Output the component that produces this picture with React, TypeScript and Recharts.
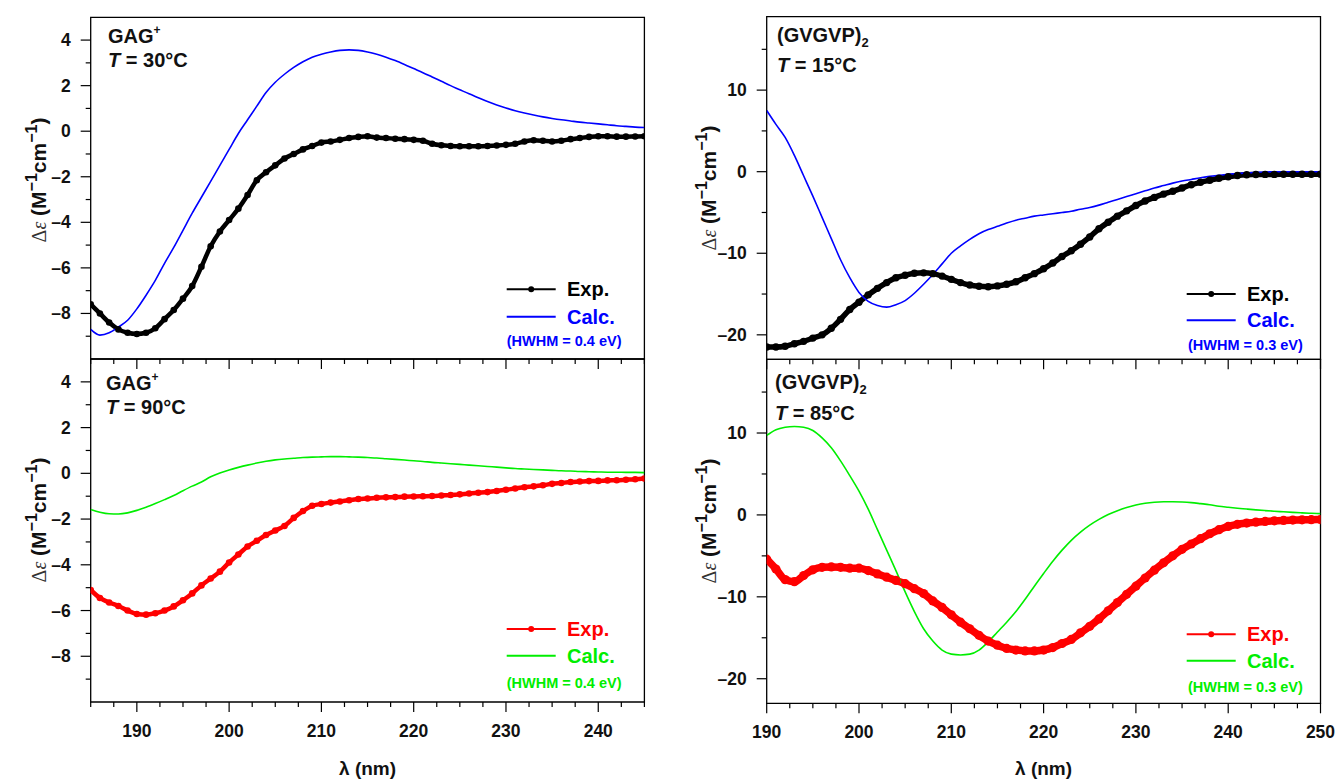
import { LineChart, Line, XAxis, YAxis, ReferenceArea } from "recharts";

const W = 1339;
const H = 781;
const Y_W = 70;
const X_H = 70;
const FONT = "Arial, 'Liberation Sans', sans-serif";
const SERIF = "'Liberation Serif', 'DejaVu Serif', serif";

// wavelength grids (nm)
const lambdaGAG = [
  185, 186, 187, 188, 189, 190, 191, 192, 193, 194, 195, 196, 197, 198, 199, 200, 201, 202, 203, 204,
  205, 206, 207, 208, 209, 210, 211, 212, 213, 214, 215, 216, 217, 218, 219, 220, 221, 222, 223, 224,
  225, 226, 227, 228, 229, 230, 231, 232, 233, 234, 235, 236, 237, 238, 239, 240, 241, 242, 243, 244, 245,
];
const lambdaGVGVP = [
  190, 191, 192, 193, 194, 195, 196, 197, 198, 199, 200, 201, 202, 203, 204, 205, 206, 207, 208, 209,
  210, 211, 212, 213, 214, 215, 216, 217, 218, 219, 220, 221, 222, 223, 224, 225, 226, 227, 228, 229,
  230, 231, 232, 233, 234, 235, 236, 237, 238, 239, 240, 241, 242, 243, 244, 245, 246, 247, 248, 249, 250,
];

// GAG+ at 30 °C
const gag30Exp = [
  -7.6, -8.0, -8.4, -8.7, -8.85, -8.9, -8.85, -8.65, -8.25, -7.85,
  -7.35, -6.8, -5.95, -5.05, -4.4, -3.9, -3.4, -2.8, -2.15, -1.8,
  -1.5, -1.2, -1.0, -0.8, -0.65, -0.5, -0.45, -0.38, -0.3, -0.25,
  -0.22, -0.28, -0.3, -0.33, -0.35, -0.38, -0.42, -0.55, -0.62, -0.65,
  -0.66, -0.66, -0.66, -0.65, -0.63, -0.6, -0.55, -0.45, -0.4, -0.42,
  -0.45, -0.42, -0.35, -0.3, -0.25, -0.22, -0.22, -0.24, -0.24, -0.23,
  -0.22,
];
const gag30Calc = [
  -8.7, -8.95, -8.85, -8.6, -8.3, -7.8, -7.2, -6.55, -5.8, -5.1,
  -4.35, -3.6, -2.9, -2.2, -1.5, -0.8, -0.1, 0.5, 1.1, 1.7,
  2.15, 2.5, 2.8, 3.05, 3.25, 3.38, 3.48, 3.55, 3.57, 3.55,
  3.48, 3.38, 3.25, 3.1, 2.93, 2.75, 2.57, 2.38, 2.19, 2.0,
  1.82, 1.64, 1.47, 1.3, 1.15, 1.02, 0.9, 0.8, 0.71, 0.63,
  0.56, 0.5, 0.45, 0.4, 0.36, 0.32, 0.28, 0.24, 0.21, 0.18,
  0.16,
];

// GAG+ at 90 °C
const gag90Exp = [
  -5.1, -5.45, -5.65, -5.8, -6.0, -6.15, -6.18, -6.12, -6.0, -5.82,
  -5.55, -5.25, -4.9, -4.6, -4.3, -3.9, -3.55, -3.2, -2.95, -2.7,
  -2.5, -2.3, -1.95, -1.65, -1.42, -1.34, -1.28, -1.23, -1.18, -1.12,
  -1.1, -1.07, -1.05, -1.04, -1.02, -1.01, -1.0, -0.99, -0.97, -0.95,
  -0.92, -0.88, -0.85, -0.82, -0.77, -0.72, -0.66, -0.61, -0.57, -0.52,
  -0.46, -0.42, -0.38, -0.36, -0.34, -0.33, -0.31, -0.3, -0.28, -0.26,
  -0.23,
];
const gag90Calc = [
  -1.58, -1.7, -1.77, -1.78, -1.73, -1.62, -1.48, -1.32, -1.15, -0.97,
  -0.76, -0.56, -0.38, -0.15, 0.02, 0.15, 0.26, 0.36, 0.45, 0.53,
  0.59, 0.63, 0.66, 0.69, 0.71, 0.72, 0.73, 0.73, 0.72, 0.71,
  0.69, 0.67, 0.64, 0.61, 0.58, 0.55, 0.52, 0.48, 0.45, 0.42,
  0.39, 0.36, 0.33, 0.3, 0.27, 0.24, 0.21, 0.19, 0.17, 0.15,
  0.13, 0.11, 0.1, 0.08, 0.07, 0.06, 0.05, 0.05, 0.04, 0.04,
  0.03,
];

// (GVGVP)2 at 15 °C
const gvgvp15Exp = [
  -21.5, -21.5, -21.4, -21.1, -20.8, -20.4, -20.0, -19.2, -18.1, -16.9,
  -16.0, -15.1, -14.3, -13.6, -13.0, -12.7, -12.45, -12.4, -12.5, -12.8,
  -13.2, -13.6, -13.9, -14.05, -14.1, -14.0, -13.8, -13.5, -13.0, -12.5,
  -11.9, -11.2, -10.4, -9.7, -8.9, -8.0, -7.0, -6.2, -5.45, -4.8,
  -4.15, -3.6, -3.15, -2.75, -2.4, -2.0, -1.6, -1.3, -1.05, -0.8,
  -0.62, -0.47, -0.38, -0.35, -0.33, -0.33, -0.32, -0.32, -0.32, -0.32,
  -0.32,
];
const gvgvp15Calc = [
  7.5, 5.8, 4.2, 2.0, -0.5, -3.0, -5.6, -8.2, -10.8, -13.0,
  -14.8, -15.9, -16.4, -16.6, -16.3, -15.8, -14.9, -13.8, -12.6, -11.3,
  -10.0, -9.1, -8.3, -7.6, -7.1, -6.7, -6.3, -5.95, -5.7, -5.45,
  -5.3, -5.15, -5.0, -4.85, -4.6, -4.4, -4.1, -3.75, -3.4, -3.05,
  -2.7, -2.35, -2.0, -1.7, -1.4, -1.15, -0.95, -0.75, -0.58, -0.43,
  -0.32, -0.22, -0.15, -0.08, -0.04, -0.02, 0, 0, 0, 0,
  0,
];

// (GVGVP)2 at 85 °C
const gvgvp85Exp = [
  -5.4, -6.6, -7.9, -8.15, -7.4, -6.7, -6.4, -6.35, -6.4, -6.5,
  -6.5, -6.8, -7.2, -7.6, -8.0, -8.4, -9.0, -9.6, -10.5, -11.3,
  -12.2, -13.1, -13.9, -14.7, -15.4, -15.9, -16.3, -16.5, -16.6, -16.6,
  -16.5, -16.2, -15.7, -15.2, -14.4, -13.6, -12.7, -11.7, -10.7, -9.7,
  -8.7, -7.7, -6.75, -5.85, -5.0, -4.2, -3.55, -2.9, -2.3, -1.8,
  -1.4, -1.15, -1.0, -0.88, -0.8, -0.72, -0.67, -0.63, -0.6, -0.58,
  -0.57,
];
const gvgvp85Calc = [
  9.7, 10.4, 10.7, 10.8, 10.7, 10.3, 9.4, 8.2, 6.6, 4.8,
  2.9, 0.7, -1.8, -4.3, -6.8, -9.4, -11.8, -13.9, -15.4, -16.5,
  -17.0, -17.1, -17.0, -16.5, -15.5, -14.3, -13.1, -11.8, -10.3, -8.7,
  -7.15, -5.65, -4.3, -3.1, -2.1, -1.25, -0.55, 0.05, 0.52, 0.9,
  1.2, 1.42, 1.55, 1.6, 1.6, 1.57, 1.5, 1.38, 1.25, 1.05,
  0.93, 0.82, 0.72, 0.62, 0.53, 0.45, 0.38, 0.31, 0.25, 0.2,
  0.16,
];

// axis ticks
const gagXTicks = [185, 187.5, 190, 192.5, 195, 197.5, 200, 202.5, 205, 207.5, 210, 212.5, 215, 217.5, 220, 222.5, 225, 227.5, 230, 232.5, 235, 237.5, 240, 242.5, 245];
const gvgvpXTicks = [190, 192.5, 195, 197.5, 200, 202.5, 205, 207.5, 210, 212.5, 215, 217.5, 220, 222.5, 225, 227.5, 230, 232.5, 235, 237.5, 240, 242.5, 245, 247.5, 250];
const gagYTicks = [-9, -8, -7, -6, -5, -4, -3, -2, -1, 0, 1, 2, 3, 4];
const gvgvpYTicks = [-20, -15, -10, -5, 0, 5, 10, 15];

const BLUE = "#0000ff";
const GREEN = "#00ee00";
const RED = "#ff0000";
const INK = "#111";

type Row = { x: number; exp: number; calc: number };
const buildRows = (xs: number[], exp: number[], calc: number[]): Row[] =>
  xs.map((x, i) => ({ x, exp: exp[i], calc: calc[i] }));

const fmt = (v: number) => (v < 0 ? `\u2013${Math.abs(v)}` : `${v}`);

const makeXTick = (showLabels: boolean) => (props: any) => {
  const { x, y, payload } = props;
  const v = payload.value;
  const major = v % 10 === 0;
  return (
    <g key={`xt-${v}`}>
      <line x1={x} x2={x} y1={y} y2={y + (major ? 10 : 5)} stroke="#000" strokeWidth={1.2} />
      {showLabels && major && (
        <text x={x} y={y + 35} textAnchor="middle" fontFamily={FONT} fontWeight="bold" fontSize={17.5} fill={INK}>
          {v}
        </text>
      )}
    </g>
  );
};

const makeYTick = (step: number) => (props: any) => {
  const { x, y, payload } = props;
  const v = payload.value;
  const major = v % step === 0;
  return (
    <g key={`yt-${v}`}>
      <line x1={x - (major ? 10 : 5)} x2={x} y1={y} y2={y} stroke="#000" strokeWidth={1.2} />
      {major && (
        <text x={x - 20} y={y + 6} textAnchor="end" fontFamily={FONT} fontWeight="bold" fontSize={17.5} fill={INK}>
          {fmt(v)}
        </text>
      )}
    </g>
  );
};

type Spec = {
  rows: Row[];
  plot: { left: number; top: number; right: number; bottom: number };
  xDomain: [number, number];
  xTicks: number[];
  showXLabels: boolean;
  yDomain: [number, number];
  yTicks: number[];
  yStep: number;
  yLabelX: number;
  yLabelCy: number;
  expColor: string;
  calcColor: string;
  expWidth: number;
  expDot: number;
  name: "GAG" | "GVGVP";
  temp: string;
  ann: { dx: number; b1: number; b2: number };
  leg: { lineRight: number; textRight: number; exp: number; calc: number; hwhm: number; hwhmRight: number };
  hwhm: string;
};

const FrameText = ({ spec, viewBox }: { spec: Spec; viewBox: any }) => {
  const { x, y, width, height } = viewBox;
  const r = x + width;
  const b = y + height;
  const { ann, leg } = spec;
  const lx = r - leg.lineRight;
  const tx = r - leg.textRight;
  return (
    <g fontFamily={FONT} fontWeight="bold">
      {spec.name === "GAG" ? (
        <text x={x + ann.dx} y={y + ann.b1} fontSize={20} fill={INK}>
          GAG<tspan dy={-9} fontSize={12}>+</tspan>
        </text>
      ) : (
        <text x={x + ann.dx} y={y + ann.b1} fontSize={20} fill={INK}>
          (GVGVP)<tspan dy={5} fontSize={13}>2</tspan>
        </text>
      )}
      <text x={x + ann.dx} y={y + ann.b2} fontSize={20} fill={INK}>
        <tspan fontStyle="italic">T</tspan> = {spec.temp}
      </text>

      <line x1={lx} x2={lx + 49} y1={b - leg.exp} y2={b - leg.exp} stroke={spec.expColor} strokeWidth={2} />
      <circle cx={lx + 24.5} cy={b - leg.exp} r={3} fill={spec.expColor} />
      <text x={tx} y={b - leg.exp + 7} fontSize={20} fill={spec.expColor}>
        Exp.
      </text>
      <line x1={lx} x2={lx + 49} y1={b - leg.calc} y2={b - leg.calc} stroke={spec.calcColor} strokeWidth={2} />
      <text x={tx} y={b - leg.calc + 7} fontSize={20} fill={spec.calcColor}>
        Calc.
      </text>
      <text x={r - leg.hwhmRight} y={b - leg.hwhm} fontSize={14.5} fill={spec.calcColor}>
        {spec.hwhm}
      </text>
    </g>
  );
};

const YTitle = ({ x, cy }: { x: number; cy: number }) => (
  <text
    transform={`rotate(-90, ${x}, ${cy})`}
    x={x}
    y={cy}
    textAnchor="middle"
    fontFamily={FONT}
    fontWeight="bold"
    fontSize={21}
    fill={INK}
  >
    <tspan fontFamily={SERIF} fontWeight="normal" fontSize={20} fill="#333">Δ</tspan>
    <tspan fontFamily={SERIF} fontStyle="italic" fontWeight="normal" fontSize={20} fill="#333">ε</tspan>
    <tspan> (M</tspan>
    <tspan dy={-9} fontSize={16}>{"\u2212"}1</tspan>
    <tspan dy={9}>cm</tspan>
    <tspan dy={-9} fontSize={16}>{"\u2212"}1</tspan>
    <tspan dy={9}>)</tspan>
  </text>
);

const Panel = ({ spec }: { spec: Spec }) => {
  const { plot } = spec;
  const margin = {
    top: plot.top,
    left: plot.left - Y_W,
    right: W - plot.right,
    bottom: H - plot.bottom - X_H,
  };
  return (
    <div style={{ position: "absolute", left: 0, top: 0 }}>
      <LineChart width={W} height={H} data={spec.rows} margin={margin}>
        <ReferenceArea
          x1={spec.xDomain[0]}
          x2={spec.xDomain[1]}
          y1={spec.yDomain[0]}
          y2={spec.yDomain[1]}
          fill="none"
          stroke="#000"
          strokeWidth={1.3}
          label={{ content: (p: any) => <FrameText spec={spec} viewBox={p.viewBox} /> }}
        />
        <XAxis
          dataKey="x"
          type="number"
          domain={spec.xDomain}
          ticks={spec.xTicks}
          interval={0}
          allowDataOverflow
          axisLine={false}
          tickLine={false}
          tickSize={0}
          tickMargin={0}
          height={X_H}
          tick={makeXTick(spec.showXLabels)}
          label={
            spec.showXLabels
              ? {
                  content: (p: any) => (
                    <text
                      x={p.viewBox.x + p.viewBox.width / 2}
                      y={775}
                      textAnchor="middle"
                      fontFamily={FONT}
                      fontWeight="bold"
                      fontSize={19}
                      fill={INK}
                    >
                      λ (nm)
                    </text>
                  ),
                }
              : undefined
          }
        />
        <YAxis
          type="number"
          domain={spec.yDomain}
          ticks={spec.yTicks}
          interval={0}
          allowDataOverflow
          axisLine={false}
          tickLine={false}
          tickSize={0}
          tickMargin={0}
          width={Y_W}
          tick={makeYTick(spec.yStep)}
          label={{ content: () => <YTitle x={spec.yLabelX} cy={spec.yLabelCy} /> }}
        />
        <Line
          dataKey="exp"
          type="monotone"
          stroke={spec.expColor}
          strokeWidth={spec.expWidth}
          dot={{ r: spec.expDot, fill: spec.expColor, stroke: "none" }}
          activeDot={false}
          isAnimationActive={false}
        />
        <Line
          dataKey="calc"
          type="monotone"
          stroke={spec.calcColor}
          strokeWidth={1.6}
          dot={false}
          activeDot={false}
          isAnimationActive={false}
        />
      </LineChart>
    </div>
  );
};

const panels: Spec[] = [
  {
    rows: buildRows(lambdaGAG, gag30Exp, gag30Calc),
    plot: { left: 90.7, top: 17.3, right: 644.4, bottom: 359 },
    xDomain: [185, 245],
    xTicks: gagXTicks,
    showXLabels: false,
    yDomain: [-10, 5],
    yTicks: gagYTicks,
    yStep: 2,
    yLabelX: 46,
    yLabelCy: 180,
    expColor: "#000",
    calcColor: BLUE,
    expWidth: 4.5,
    expDot: 3.3,
    name: "GAG",
    temp: "30°C",
    ann: { dx: 17.3, b1: 26, b2: 50 },
    leg: { lineRight: 137.7, textRight: 77.4, exp: 69.7, calc: 42.3, hwhm: 13, hwhmRight: 137.7 },
    hwhm: "(HWHM = 0.4 eV)",
  },
  {
    rows: buildRows(lambdaGAG, gag90Exp, gag90Calc),
    plot: { left: 90.7, top: 359, right: 644.4, bottom: 702 },
    xDomain: [185, 245],
    xTicks: gagXTicks,
    showXLabels: true,
    yDomain: [-10, 5],
    yTicks: gagYTicks,
    yStep: 2,
    yLabelX: 46,
    yLabelCy: 520,
    expColor: RED,
    calcColor: GREEN,
    expWidth: 4.5,
    expDot: 3.3,
    name: "GAG",
    temp: "90°C",
    ann: { dx: 15.3, b1: 31, b2: 55 },
    leg: { lineRight: 137.7, textRight: 77.4, exp: 73, calc: 46.3, hwhm: 14, hwhmRight: 137.7 },
    hwhm: "(HWHM = 0.4 eV)",
  },
  {
    rows: buildRows(lambdaGVGVP, gvgvp15Exp, gvgvp15Calc),
    plot: { left: 766.7, top: 16.7, right: 1320.5, bottom: 359.3 },
    xDomain: [190, 250],
    xTicks: gvgvpXTicks,
    showXLabels: false,
    yDomain: [-23, 19],
    yTicks: gvgvpYTicks,
    yStep: 10,
    yLabelX: 716,
    yLabelCy: 188,
    expColor: "#000",
    calcColor: BLUE,
    expWidth: 5.5,
    expDot: 3.7,
    name: "GVGVP",
    temp: "15°C",
    ann: { dx: 10.3, b1: 25.3, b2: 55 },
    leg: { lineRight: 133.8, textRight: 73.5, exp: 65.3, calc: 39, hwhm: 9, hwhmRight: 132.5 },
    hwhm: "(HWHM = 0.3 eV)",
  },
  {
    rows: buildRows(lambdaGVGVP, gvgvp85Exp, gvgvp85Calc),
    plot: { left: 766.7, top: 359.3, right: 1320.5, bottom: 703.3 },
    xDomain: [190, 250],
    xTicks: gvgvpXTicks,
    showXLabels: true,
    yDomain: [-23, 19],
    yTicks: gvgvpYTicks,
    yStep: 10,
    yLabelX: 716,
    yLabelCy: 521,
    expColor: RED,
    calcColor: GREEN,
    expWidth: 7.5,
    expDot: 4.6,
    name: "GVGVP",
    temp: "85°C",
    ann: { dx: 8.3, b1: 30, b2: 60.7 },
    leg: { lineRight: 133.8, textRight: 73.5, exp: 69, calc: 42.6, hwhm: 11, hwhmRight: 132.5 },
    hwhm: "(HWHM = 0.3 eV)",
  },
];

export default function App() {
  return (
    <div style={{ position: "absolute", left: 0, top: 0, width: W, height: H, background: "#fff", overflow: "hidden" }}>
      {panels.map((spec, i) => (
        <Panel key={i} spec={spec} />
      ))}
    </div>
  );
}
